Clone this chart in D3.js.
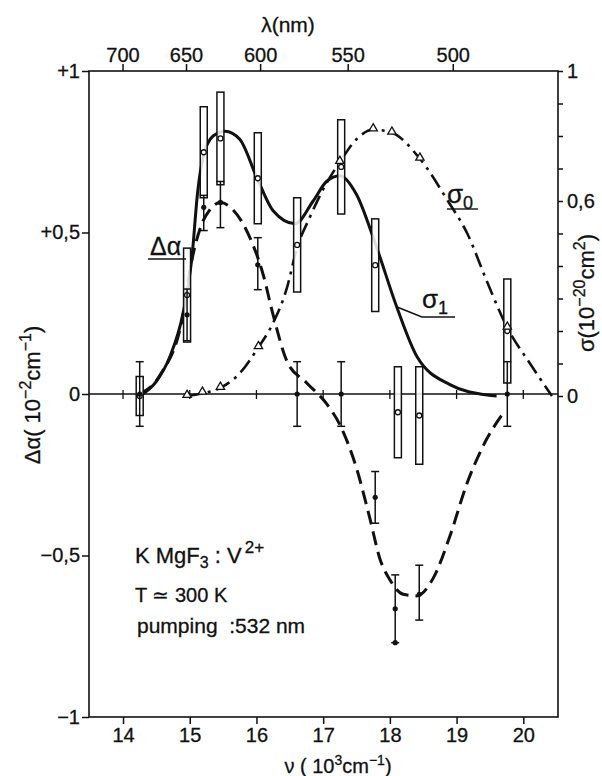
<!DOCTYPE html>
<html>
<head>
<meta charset="utf-8">
<script src="https://cdn.jsdelivr.net/npm/d3@7/dist/d3.min.js"></script>
<style>
  body { margin: 0; background: #fff; }
  svg { display: block; }
  .tick text { font-family: "Liberation Sans Narrow", "Liberation Sans", sans-serif; font-size: 20px; fill: #111; stroke: #111; stroke-width: 0.3px; }
  .lbl text { font-family: "Liberation Sans", Arial, sans-serif; fill: #111; stroke: #111; stroke-width: 0.3px; }
</style>
</head>
<body>
<div id="chart"></div>
<script>
// wavenumber axis (10^3 cm^-1) and wavelength axis (nm)
var nuTicks = [14, 15, 16, 17, 18, 19, 20];
var lambdaTicks = [700, 650, 600, 550, 500];
var alphaTicks = [-1, -0.5, 0, 0.5, 1];
var alphaLabels = ["\u22121", "\u22120,5", "0", "+0,5", "+1"];
var sigmaTicks = [0, 0.1, 0.2, 0.3, 0.4, 0.5, 0.6, 0.7, 0.8, 0.9, 1];

// sigma_1 fitted curve (solid)  [nu, sigma]
var sigma1Curve = [[14.25, 0], [14.5, 0.045], [14.7, 0.12], [14.9, 0.255], [15.03, 0.42],
  [15.12, 0.63], [15.2, 0.735], [15.35, 0.8], [15.53, 0.815], [15.75, 0.79], [16.0, 0.675],
  [16.25, 0.57], [16.58, 0.53], [16.85, 0.6], [17.05, 0.66], [17.25, 0.678], [17.5, 0.62],
  [17.78, 0.47], [18.11, 0.27], [18.41, 0.12], [18.9, 0.035], [19.46, 0.003], [19.6, 0]];

// sigma_0 curve (dash-dot)
var sigma0Curve = [[14.96, 0], [15.19, 0.008], [15.46, 0.025], [15.75, 0.07], [16.03, 0.15],
  [16.25, 0.225], [16.46, 0.335], [16.6, 0.45], [16.8, 0.55], [17.05, 0.655], [17.25, 0.72],
  [17.5, 0.79], [17.75, 0.82], [18.03, 0.81], [18.45, 0.73], [18.87, 0.6], [19.16, 0.5],
  [19.46, 0.35], [19.76, 0.21], [20.1, 0.1], [20.43, 0]];

// delta alpha curve (dashed)
var alphaCurve = [[14.25, 0], [14.56, 0.06], [14.9, 0.245], [15.0, 0.38], [15.16, 0.515],
  [15.3, 0.57], [15.46, 0.593], [15.65, 0.57], [15.9, 0.485], [16.1, 0.37], [16.25, 0.245],
  [16.46, 0.1], [16.75, 0.035], [17.05, -0.03], [17.25, -0.095],
  [17.5, -0.23], [17.7, -0.385], [17.85, -0.51], [18.0, -0.575], [18.2, -0.62],
  [18.4, -0.625], [18.65, -0.57], [18.9, -0.44], [19.15, -0.28], [19.4, -0.16], [19.73, -0.05]];

// delta alpha measurements with error bars
var daNu  = [14.25, 14.96, 15.21, 15.46, 16.02, 16.61, 17.27, 17.78, 18.08, 18.44, 19.76];
var daVal = [0, 0.245, 0.578, 0.593, 0.40, 0, 0, -0.32, -0.665, -0.62, 0];
var daLo  = [-0.1, 0.165, 0.506, 0.515, 0.323, -0.1, -0.1, -0.40, -0.77, -0.70, -0.1];
var daHi  = [0.1, 0.325, 0.615, 0.658, 0.484, 0.1, 0.1, -0.24, -0.56, -0.53, 0.1];
// extra point drawn at the lower end of one bar
var daExtraNu = [18.08];
var daExtraVal = [-0.77];

// sigma_1 measurements (boxes)
var sNu  = [14.25, 14.96, 15.21, 15.46, 16.02, 16.61, 17.27, 17.78, 18.12, 18.44, 19.76];
var sLo  = [-0.06, 0.166, 0.61, 0.65, 0.53, 0.32, 0.56, 0.26, -0.19, -0.21, 0.04];
var sHi  = [0.06, 0.455, 0.89, 0.935, 0.81, 0.61, 0.85, 0.545, 0.09, 0.09, 0.36];

// sigma_0 measurements (triangles)
var tNu  = [14.96, 15.19, 15.46, 16.03, 17.25, 17.75, 18.03, 18.45, 19.76];
var tVal = [0, 0.01, 0.025, 0.15, 0.72, 0.82, 0.81, 0.73, 0.21];

var width = 602, height = 776;

var svg = d3.select("#chart").append("svg")
  .attr("width", width)
  .attr("height", height);

var x = d3.scaleLinear().domain([13.49, 20.52]).range([89, 558]);
var yA = d3.scaleLinear().domain([-1, 1]).range([717, 71]);
var yS = d3.scaleLinear().domain([0, 1]).range([396, 71]);
// top wavelength axis, positioned as in the original plate
var topNu = d3.scaleLinear().domain([1e4 / 700, 1e4 / 500]).range([x(14), x(18.95)]);

var ink = "#111";

// frame
svg.append("rect")
  .attr("x", x.range()[0]).attr("y", yA(1))
  .attr("width", x.range()[1] - x.range()[0])
  .attr("height", yA(-1) - yA(1))
  .attr("fill", "none").attr("stroke", ink).attr("stroke-width", 1.6);

// bottom axis
svg.append("g")
  .attr("transform", "translate(0," + yA(-1) + ")")
  .call(d3.axisBottom(x).tickValues(nuTicks).tickSize(7).tickSizeOuter(0).tickPadding(4)
    .tickFormat(d3.format("d")))
  .call(function(g) { g.select(".domain").remove(); })
  .call(function(g) { g.selectAll(".tick line").attr("stroke", ink).attr("stroke-width", 1.5); });

// left axis
svg.append("g")
  .attr("transform", "translate(" + x.range()[0] + ",0)")
  .call(d3.axisLeft(yA).tickValues(alphaTicks).tickSize(7).tickSizeOuter(0).tickPadding(2)
    .tickFormat(function(d, i) { return alphaLabels[i]; }))
  .call(function(g) { g.select(".domain").remove(); })
  .call(function(g) { g.selectAll(".tick line").attr("stroke", ink).attr("stroke-width", 1.5); });

// right axis
svg.append("g")
  .attr("transform", "translate(" + x.range()[1] + ",0)")
  .call(d3.axisRight(yS).tickValues(sigmaTicks).tickSize(5).tickSizeOuter(0).tickPadding(4)
    .tickFormat(function(d) { return d === 0 ? "0" : d === 1 ? "1" : Math.abs(d - 0.6) < 1e-6 ? "0,6" : ""; }))
  .call(function(g) { g.select(".domain").remove(); })
  .call(function(g) { g.selectAll(".tick line").attr("stroke", ink).attr("stroke-width", 1.5); });

// top axis (wavelength)
var topG = svg.append("g");
topG.selectAll("line").data(lambdaTicks).enter().append("line")
  .attr("x1", function(d) { return topNu(1e4 / d); })
  .attr("x2", function(d) { return topNu(1e4 / d); })
  .attr("y1", yA(1)).attr("y2", yA(1) - 7)
  .attr("stroke", ink).attr("stroke-width", 1.5);
topG.selectAll("text").data(lambdaTicks).enter().append("text")
  .attr("x", function(d) { return topNu(1e4 / d); })
  .attr("y", yA(1) - 9)
  .attr("text-anchor", "middle")
  .style("font-family", "'Liberation Sans Narrow', 'Liberation Sans', sans-serif")
  .style("font-size", "20px").style("fill", ink)
  .style("stroke", ink).style("stroke-width", "0.3px")
  .text(function(d) { return d; });

// zero line with small ticks
svg.append("line")
  .attr("x1", x.range()[0]).attr("x2", x.range()[1])
  .attr("y1", yA(0)).attr("y2", yA(0))
  .attr("stroke", ink).attr("stroke-width", 1.5);
svg.append("g").selectAll("line").data(nuTicks).enter().append("line")
  .attr("x1", function(d) { return x(d); }).attr("x2", function(d) { return x(d); })
  .attr("y1", yA(0) - 4).attr("y2", yA(0) + 5)
  .attr("stroke", ink).attr("stroke-width", 1.3);

// curves
var lineS = d3.line().x(function(d) { return x(d[0]); }).y(function(d) { return yS(d[1]); })
  .curve(d3.curveMonotoneX);
var lineA = d3.line().x(function(d) { return x(d[0]); }).y(function(d) { return yA(d[1]); })
  .curve(d3.curveMonotoneX);

svg.append("path").datum(sigma0Curve).attr("d", lineS)
  .attr("fill", "none").attr("stroke", ink).attr("stroke-width", 2.6)
  .attr("stroke-dasharray", "15,6,3,6");

svg.append("path").datum(alphaCurve).attr("d", lineA)
  .attr("fill", "none").attr("stroke", ink).attr("stroke-width", 3)
  .attr("stroke-dasharray", "14,7");

svg.append("path").datum(sigma1Curve).attr("d", lineS)
  .attr("fill", "none").attr("stroke", ink).attr("stroke-width", 3);

// sigma_1 boxes
var boxW = 7;
var boxes = svg.append("g");
boxes.selectAll("rect").data(sNu).enter().append("rect")
  .attr("x", function(d) { return x(d) - boxW / 2; })
  .attr("y", function(d, i) { return yS(sHi[i]); })
  .attr("width", boxW)
  .attr("height", function(d, i) { return yS(sLo[i]) - yS(sHi[i]); })
  .attr("fill", "#fff").attr("fill-opacity", 0.85)
  .attr("stroke", ink).attr("stroke-width", 1.5);
boxes.selectAll("circle").data(sNu).enter().append("circle")
  .attr("cx", function(d) { return x(d); })
  .attr("cy", function(d, i) { return yS((sLo[i] + sHi[i]) / 2); })
  .attr("r", 2.5)
  .attr("fill", "#fff").attr("stroke", ink).attr("stroke-width", 1.3);

// delta alpha error bars
var eb = svg.append("g").attr("stroke", ink).attr("stroke-width", 1.5);
eb.selectAll(".bar").data(daNu).enter().append("line")
  .attr("x1", function(d) { return x(d); }).attr("x2", function(d) { return x(d); })
  .attr("y1", function(d, i) { return yA(daLo[i]); })
  .attr("y2", function(d, i) { return yA(daHi[i]); });
eb.selectAll(".capLo").data(daNu).enter().append("line")
  .attr("x1", function(d) { return x(d) - 4; }).attr("x2", function(d) { return x(d) + 4; })
  .attr("y1", function(d, i) { return yA(daLo[i]); })
  .attr("y2", function(d, i) { return yA(daLo[i]); });
eb.selectAll(".capHi").data(daNu).enter().append("line")
  .attr("x1", function(d) { return x(d) - 4; }).attr("x2", function(d) { return x(d) + 4; })
  .attr("y1", function(d, i) { return yA(daHi[i]); })
  .attr("y2", function(d, i) { return yA(daHi[i]); });
svg.append("g").selectAll("circle").data(daNu).enter().append("circle")
  .attr("cx", function(d) { return x(d); })
  .attr("cy", function(d, i) { return yA(daVal[i]); })
  .attr("r", 2.6).attr("fill", ink);
svg.append("g").selectAll("circle").data(daExtraNu).enter().append("circle")
  .attr("cx", function(d) { return x(d); })
  .attr("cy", function(d, i) { return yA(daExtraVal[i]); })
  .attr("r", 2.6).attr("fill", ink);

// sigma_0 triangles
var tri = d3.symbol().type(d3.symbolTriangle).size(30);
svg.append("g").selectAll("path").data(tNu).enter().append("path")
  .attr("d", tri)
  .attr("transform", function(d, i) { return "translate(" + x(d) + "," + (yS(tVal[i]) - 1) + ")"; })
  .attr("fill", "#fff").attr("stroke", ink).attr("stroke-width", 1.3);

// curve labels
var lab = svg.append("g").attr("class", "lbl");
lab.append("text").attr("x", 150).attr("y", 255).style("font-size", "25px").text("\u0394\u03b1");
lab.append("line").attr("x1", 148).attr("x2", 186).attr("y1", 259).attr("y2", 259)
  .attr("stroke", ink).attr("stroke-width", 1.4);

var s0 = lab.append("text").attr("x", 447).attr("y", 203).style("font-size", "26px");
s0.append("tspan").text("\u03c3");
s0.append("tspan").attr("dy", 6).style("font-size", "18px").text("0");
lab.append("line").attr("x1", 447).attr("x2", 478).attr("y1", 209).attr("y2", 209)
  .attr("stroke", ink).attr("stroke-width", 1.4);

var s1 = lab.append("text").attr("x", 422).attr("y", 308).style("font-size", "26px");
s1.append("tspan").text("\u03c3");
s1.append("tspan").attr("dy", 6).style("font-size", "18px").text("1");
lab.append("line").attr("x1", 422).attr("x2", 455).attr("y1", 317).attr("y2", 317)
  .attr("stroke", ink).attr("stroke-width", 1.4);
lab.append("line").attr("x1", 397).attr("x2", 422).attr("y1", 307).attr("y2", 317)
  .attr("stroke", ink).attr("stroke-width", 1.4);

// sample info
var t1 = lab.append("text").attr("x", 135).attr("y", 563).style("font-size", "22px");
t1.append("tspan").text("K MgF");
t1.append("tspan").attr("dy", 5).style("font-size", "16px").text("3");
t1.append("tspan").attr("dy", -5).text(" : V");
t1.append("tspan").attr("dy", -10).attr("dx", 3).style("font-size", "17px").text("2+");
lab.append("text").attr("x", 135).attr("y", 602).style("font-size", "20px").text("T \u2243 300 K");
lab.append("text").attr("x", 137).attr("y", 633).style("font-size", "21px").text("pumping \u00a0:532 nm");

// axis titles
lab.append("text").attr("x", 288).attr("y", 32).attr("text-anchor", "middle")
  .style("font-size", "21px").text("\u03bb(nm)");

var bt = lab.append("text").attr("x", 338).attr("y", 773).attr("text-anchor", "middle")
  .style("font-size", "20px");
bt.append("tspan").text("\u03bd ( 10");
bt.append("tspan").attr("dy", -8).style("font-size", "14px").text("3");
bt.append("tspan").attr("dy", 8).text("cm");
bt.append("tspan").attr("dy", -8).style("font-size", "14px").text("\u22121");
bt.append("tspan").attr("dy", 8).text(")");

var lt = lab.append("text").attr("transform", "translate(40,395) rotate(-90)")
  .attr("text-anchor", "middle").style("font-size", "22px");
lt.append("tspan").text("\u0394\u03b1( 10");
lt.append("tspan").attr("dy", -9).style("font-size", "16px").text("\u22122");
lt.append("tspan").attr("dy", 9).text("cm");
lt.append("tspan").attr("dy", -9).style("font-size", "16px").text("\u22121");
lt.append("tspan").attr("dy", 9).text(")");

var rt = lab.append("text").attr("transform", "translate(594,293) rotate(-90)")
  .attr("text-anchor", "middle").style("font-size", "22px");
rt.append("tspan").text("\u03c3(10");
rt.append("tspan").attr("dy", -9).style("font-size", "16px").text("\u221220");
rt.append("tspan").attr("dy", 9).text("cm");
rt.append("tspan").attr("dy", -9).style("font-size", "16px").text("2");
rt.append("tspan").attr("dy", 9).text(")");
</script>
</body>
</html>
